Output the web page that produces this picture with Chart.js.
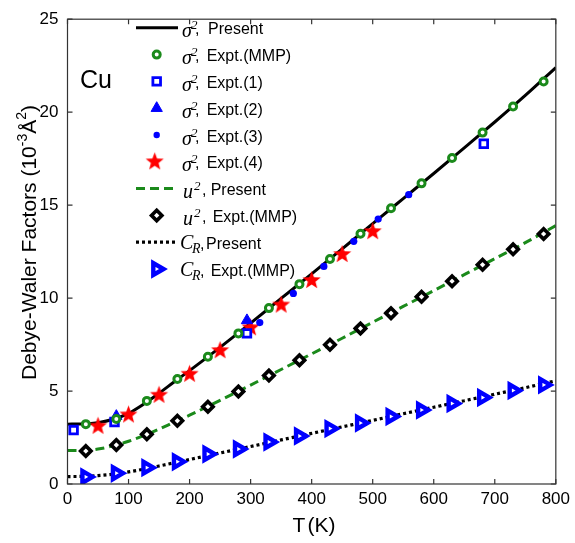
<!DOCTYPE html>
<html><head><meta charset="utf-8">
<script src="https://cdn.jsdelivr.net/npm/chart.js@4"></script>
<style>html,body{margin:0;padding:0;background:#fff}</style>
</head><body>
<canvas id="c" width="575" height="543"></canvas>
<script>
// ---- data (T in K, values in 10^-3 Å^2) ----
const xTicks = [0,100,200,300,400,500,600,700,800];
const yTicks = [0,5,10,15,20,25];

const lineT      = [0,25,50,75,100,125,150,175,200,250,300,350,400,450,500,550,600,650,700,750,800];
const sigPresent = [3.22,3.23,3.3,3.48,3.8,4.3,4.88,5.5,6.1,7.35,8.65,9.98,11.3,12.65,14.0,15.35,16.7,18.08,19.47,20.9,22.4];
const uPresent   = [1.8,1.8,1.88,2.05,2.3,2.6,2.95,3.33,3.7,4.5,5.32,6.16,7.0,7.84,8.7,9.55,10.4,11.26,12.12,12.98,13.9];
const crPresent  = [0.4,0.41,0.45,0.53,0.65,0.8,0.97,1.14,1.32,1.67,2.02,2.37,2.72,3.07,3.42,3.78,4.13,4.48,4.83,5.18,5.55];

const mmpT     = [30,80,130,180,230,280,330,380,430,480,530,580,630,680,730,780];
const sigMMP   = [3.22,3.5,4.47,5.65,6.84,8.1,9.46,10.75,12.1,13.46,14.83,16.17,17.53,18.9,20.3,21.65];
const uMMP     = [1.77,2.1,2.67,3.4,4.16,4.98,5.83,6.66,7.49,8.37,9.19,10.07,10.91,11.79,12.62,13.45];
const crMMP    = [0.38,0.58,0.88,1.2,1.61,1.88,2.26,2.58,2.98,3.28,3.63,3.98,4.33,4.65,5.03,5.33];

const exp1T = [10,77,294,682];            const exp1V = [2.9,3.33,8.1,18.3];
const exp2T = [80,294];                   const exp2V = [3.65,8.8];
const exp3T = [315,370,420,469,509,559];  const exp3V = [8.68,10.25,11.7,13.05,14.25,15.56];
const exp4T = [50,100,150,200,250,300,350,400,450,500];
const exp4V = [3.16,3.77,4.83,5.96,7.23,8.46,9.68,11.0,12.4,13.63];

const GREEN = '#1b8a1b', BLUE = '#0000ff', RED = '#ff0000';

function pts(xs, ys){ return xs.map((x,i)=>({x:x, y:ys[i]})); }
function makeStar(R, r, color){
  const s = Math.ceil(2*R+2);
  const c = document.createElement('canvas'); c.width = s; c.height = s;
  const g = c.getContext('2d'); g.fillStyle = color; g.beginPath();
  for (let i=0;i<10;i++){
    const a = -Math.PI/2 + i*Math.PI/5, rad = (i%2) ? r : R;
    g.lineTo(s/2 + rad*Math.cos(a), s/2 + 1 + rad*Math.sin(a));
  }
  g.closePath(); g.fill(); return c;
}
const starImg = makeStar(9.5, 4, RED);

const lineDs = (label, ys, color, dash, w) => ({
  label, data: pts(lineT, ys), showLine: true, borderColor: color, borderWidth: w,
  borderDash: dash, pointRadius: 0, cubicInterpolationMode: 'monotone', order: 5, fill: false
});
const ptDs = (label, xs, ys, style, r, bg, bc, bw, rot) => ({
  label, data: pts(xs, ys), showLine: false, pointStyle: style, pointRadius: r,
  backgroundColor: bg, borderColor: bc, pointBorderWidth: bw, borderWidth: bw,
  pointRotation: rot || 0, order: 1
});

const datasets = [
  lineDs('σ2 Present', sigPresent, '#000', [], 3),
  ptDs('σ2 Expt.(MMP)', mmpT, sigMMP, 'circle', 3.5, '#fff', GREEN, 3),
  ptDs('σ2 Expt.(1)', exp1T, exp1V, 'rect', 5.4, '#fff', BLUE, 2.8),
  ptDs('σ2 Expt.(2)', exp2T, exp2V, 'triangle', 6.5, BLUE, BLUE, 1),
  ptDs('σ2 Expt.(3)', exp3T, exp3V, 'circle', 3.6, BLUE, BLUE, 0),
  ptDs('σ2 Expt.(4)', exp4T, exp4V, starImg, 9, RED, RED, 0),
  lineDs('u2 Present', uPresent, GREEN, [9,5], 3),
  ptDs('u2 Expt.(MMP)', mmpT, uMMP, 'rectRot', 5.2, '#fff', '#000', 3.6),
  lineDs('CR Present', crPresent, '#000', [3,3], 3.2),
  ptDs('CR Expt.(MMP)', mmpT, crMMP, 'triangle', 6.8, '#fff', BLUE, 4.4, 90)
];

const FONT = 'Arial, "Liberation Sans", sans-serif';
const SERIF = '"Liberation Serif", "Times New Roman", serif';

const decor = {
  id: 'decor',
  afterDraw(chart){
    const ctx = chart.ctx, a = chart.chartArea;
    const xs = chart.scales.x, ys = chart.scales.y;
    ctx.save();
    // box
    ctx.strokeStyle = '#333'; ctx.lineWidth = 1.2;
    ctx.strokeRect(a.left, a.top, a.right - a.left, a.bottom - a.top);
    // inward ticks
    ctx.beginPath();
    xTicks.forEach(v => { const px = xs.getPixelForValue(v);
      ctx.moveTo(px, a.bottom); ctx.lineTo(px, a.bottom - 5);
      ctx.moveTo(px, a.top); ctx.lineTo(px, a.top + 5); });
    yTicks.forEach(v => { const py = ys.getPixelForValue(v);
      ctx.moveTo(a.left, py); ctx.lineTo(a.left + 5, py);
      ctx.moveTo(a.right, py); ctx.lineTo(a.right - 5, py); });
    ctx.stroke();

    // y title
    ctx.fillStyle = '#000';
    ctx.save();
    ctx.translate(36, 380); ctx.rotate(-Math.PI/2);
    ctx.textBaseline = 'alphabetic'; ctx.textAlign = 'left';
    let x = 0;
    const put = (t, f, dy) => { ctx.font = f; ctx.fillText(t, x, dy); x += ctx.measureText(t).width; };
    put('Debye-Waler Factors (10', '21px ' + FONT, 0);
    put('-3', '14px ' + FONT, -9);
    put('Å', '21px ' + FONT, 0);
    put('2', '14px ' + FONT, -10);
    put(')', '21px ' + FONT, 0);
    ctx.restore();

    // x title
    ctx.font = '21px ' + FONT; ctx.textBaseline = 'middle'; ctx.textAlign = 'left';
    const wT = ctx.measureText('T').width, wK = ctx.measureText('(K)').width;
    const sx = 314 - (wT + 2 + wK)/2;
    ctx.fillText('T', sx, 526); ctx.fillText('(K)', sx + wT + 2, 526);

    // Cu label
    ctx.textBaseline = 'alphabetic';
    ctx.font = '25px ' + FONT; ctx.fillText('Cu', 80, 88);

    // legend
    const mx = 156.7;
    for (let i = 0; i < datasets.length; i++){
      const d = datasets[i], b = 34.3 + 26.8*i, cy = b - 6.5;
      if (d.showLine){
        ctx.save(); ctx.strokeStyle = d.borderColor; ctx.lineWidth = d.borderWidth;
        ctx.setLineDash(d.borderDash); ctx.beginPath();
        ctx.moveTo(136, cy); ctx.lineTo(178, cy); ctx.stroke(); ctx.restore();
      } else {
        ctx.save();
        ctx.fillStyle = d.backgroundColor; ctx.strokeStyle = d.borderColor; ctx.lineWidth = d.borderWidth;
        let r = d.pointRadius;
        if (i === 4) r = 3.2;
        if (i === 5) { ctx.drawImage(starImg, mx - starImg.width/2 - 2, cy - starImg.height/2 - 1); }
        else Chart.helpers.drawPoint(ctx, {pointStyle: d.pointStyle, radius: r, rotation: d.pointRotation, borderWidth: d.borderWidth}, mx, cy);
        ctx.restore();
      }
      const parts = d.label.split(' ');
      const sym = parts[0], rest = parts.slice(1).join(' ');
      ctx.fillStyle = '#000';
      let lx;
      if (sym === 'σ2'){
        ctx.font = 'italic 20px ' + SERIF; ctx.fillText('σ', 182, b + 3);
        ctx.font = 'italic 13px ' + SERIF; ctx.fillText('2', 191, b - 5);
        ctx.font = '16px ' + FONT; ctx.fillText(',', 195, b);
        lx = (i === 0) ? 208 : 206.7;
      } else if (sym === 'u2'){
        ctx.font = 'italic 20px ' + SERIF; ctx.fillText('u', 183, b + 3);
        ctx.font = 'italic 13px ' + SERIF; ctx.fillText('2', 194, b - 5);
        ctx.font = '16px ' + FONT; ctx.fillText(',', 202, b);
        lx = (rest === 'Present') ? 210.7 : 212.7;
      } else {
        ctx.font = 'italic 20px ' + SERIF; ctx.fillText('C', 180, b);
        ctx.font = 'italic 14px ' + SERIF; ctx.fillText('R', 192, b + 4);
        ctx.font = '16px ' + FONT; ctx.fillText(',', 200, b);
        lx = (rest === 'Present') ? 206 : 210.7;
      }
      ctx.font = '16px ' + FONT; ctx.fillText(rest, lx, b);
    }
    ctx.restore();
  }
};

new Chart(document.getElementById('c'), {
  type: 'scatter',
  data: { datasets },
  options: {
    responsive: false, animation: false, devicePixelRatio: 1, events: [],
    layout: { padding: { left: 0, right: 13.5, top: 9, bottom: 0 } },
    plugins: { legend: { display: false }, tooltip: { enabled: false } },
    scales: {
      x: {
        type: 'linear', min: 0, max: 800,
        afterFit: s => { s.height = 59; },
        afterBuildTicks: s => { s.ticks = xTicks.map(v => ({value: v})); },
        ticks: { autoSkip: false, maxRotation: 0, color: '#000', padding: 5,
                 font: { family: FONT, size: 17 } },
        grid: { display: false, drawTicks: false }, border: { display: false }
      },
      y: {
        type: 'linear', min: 0, max: 25,
        afterFit: s => { s.width = 67.5; },
        afterBuildTicks: s => { s.ticks = yTicks.map(v => ({value: v})); },
        ticks: { color: '#000', padding: 9, font: { family: FONT, size: 17 } },
        grid: { display: false, drawTicks: false }, border: { display: false }
      }
    }
  },
  plugins: [decor]
});
</script>
</body></html>
